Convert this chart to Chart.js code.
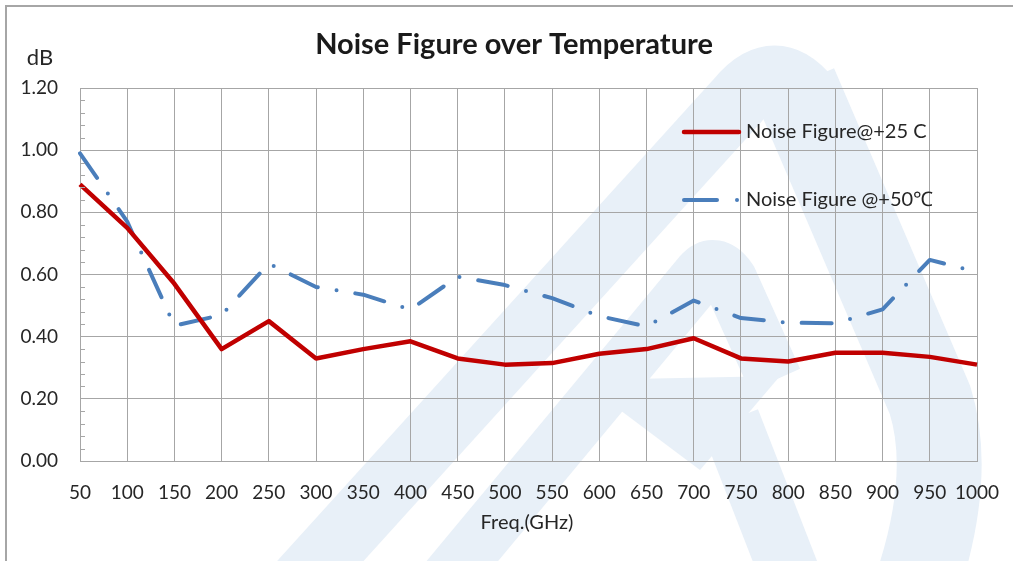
<!DOCTYPE html>
<html><head><meta charset="utf-8">
<script src="https://cdn.jsdelivr.net/npm/chart.js@4.4.1/dist/chart.umd.min.js"></script>
<style>html,body{margin:0;padding:0;background:#fff;}canvas{display:block;}</style>
</head><body>
<canvas id="c" width="1013" height="561"></canvas>
<script>
const categories = ['50','100','150','200','250','300','350','400','450','500','550','600','650','700','750','800','850','900','950','1000'];
const nf25 = [0.89,0.75,0.57,0.36,0.45,0.33,0.36,0.385,0.33,0.31,0.315,0.345,0.36,0.395,0.33,0.32,0.348,0.348,0.335,0.31];
const nf50 = [0.99,0.77,0.435,0.47,0.635,0.56,0.535,0.487,0.593,0.566,0.524,0.466,0.433,0.516,0.46,0.445,0.443,0.488,0.647,0.608];
const yTicks = [0,0.2,0.4,0.6,0.8,1.0,1.2];
const seriesNames = ['Noise Figure@+25 C','Noise Figure @+50\u2103'];
const chartTitle = 'Noise Figure over Temperature';
const yUnit = 'dB';
const xTitle = 'Freq.(GHz)';

const RED = '#c00000', BLUE = '#4a7ebb', GRID = '#a6a6a6', TXT = '#262626';
const FONT = 'Lato';

const deco = {
  id:'deco',
  beforeDraw(chart){
    const ctx = chart.ctx;
    ctx.save();
    ctx.fillStyle='#fff'; ctx.fillRect(0,0,chart.width,chart.height);
    // watermark
    ctx.strokeStyle='#e8f0f8'; ctx.fillStyle='#e8f0f8';
    ctx.lineJoin='round'; ctx.lineCap='butt';
    ctx.lineWidth=64;
    ctx.beginPath(); ctx.moveTo(285,600); ctx.lineTo(738,100); ctx.quadraticCurveTo(775,55,810,100); ctx.stroke();
    ctx.lineWidth=85;
    ctx.beginPath(); ctx.moveTo(795,85); ctx.lineTo(930,400); ctx.quadraticCurveTo(955,480,912,600); ctx.stroke();
    ctx.lineWidth=55;
    ctx.beginPath(); ctx.moveTo(430,600); ctx.lineTo(700,275); ctx.quadraticCurveTo(715,258,730,280); ctx.lineTo(775,380); ctx.stroke();
    ctx.beginPath(); ctx.moveTo(580,380); ctx.lineTo(780,376); ctx.lineTo(700,470); ctx.closePath(); ctx.fill();
    ctx.lineWidth=60;
    ctx.beginPath(); ctx.moveTo(730,420); ctx.lineTo(800,600); ctx.stroke();
    ctx.restore();
  },
  afterDatasetsDraw(chart){
    const ctx = chart.ctx, y = chart.scales.y, a = chart.chartArea;
    ctx.save();
    // minor ticks
    ctx.strokeStyle=GRID; ctx.lineWidth=1;
    for(let i=0;i<=30;i++){ if(i%5===0) continue; const py=Math.round(y.getPixelForValue(i*0.04))+0.5; ctx.beginPath(); ctx.moveTo(a.left,py); ctx.lineTo(a.left+5,py); ctx.stroke(); }
    // frame
    ctx.fillStyle='#a6a6a6'; ctx.fillRect(5,5,1008,2); ctx.fillRect(5,5,2,556);
    // texts
    ctx.fillStyle='#1a1a1a'; ctx.textBaseline='middle'; ctx.textAlign='center';
    ctx.font='bold 29px '+FONT; ctx.fillText(chartTitle,514,45);
    ctx.fillStyle=TXT;
    ctx.font='22px '+FONT; ctx.fillText(yUnit,40,58);
    ctx.font='20px '+FONT; ctx.fillText(xTitle,527,523);
    // legend
    ctx.lineCap='round';
    ctx.strokeStyle=RED; ctx.lineWidth=4.5; ctx.beginPath(); ctx.moveTo(684,132); ctx.lineTo(739,132); ctx.stroke();
    ctx.strokeStyle=BLUE; ctx.lineWidth=4; ctx.beginPath(); ctx.moveTo(684,200); ctx.lineTo(717,200); ctx.stroke();
    ctx.beginPath(); ctx.arc(737,200,2,0,Math.PI*2); ctx.fillStyle=BLUE; ctx.fill();
    ctx.fillStyle=TXT; ctx.textAlign='left'; ctx.font='20px '+FONT;
    ctx.fillText(seriesNames[0],746,132);
    ctx.fillText(seriesNames[1],746,200);
    ctx.restore();
  }
};

new Chart(document.getElementById('c'),{
  type:'line',
  data:{labels:categories,datasets:[
    {label:seriesNames[0],data:nf25,borderColor:RED,borderWidth:4.5,pointRadius:0,tension:0,borderJoinStyle:'round',fill:false},
    {label:seriesNames[1],data:nf50,borderColor:BLUE,borderWidth:4,pointRadius:0,tension:0,borderDash:[30,19,0,19],borderCapStyle:'round',borderJoinStyle:'round',fill:false}
  ]},
  options:{
    responsive:false, animation:false, devicePixelRatio:1,
    layout:{padding:{left:0,right:36,top:88,bottom:0}},
    plugins:{legend:{display:false},title:{display:false},tooltip:{enabled:false}},
    scales:{
      x:{type:'category',offset:false,
         grid:{color:GRID,lineWidth:1,drawTicks:false},border:{color:GRID,width:1},
         ticks:{padding:20,autoSkip:false,maxRotation:0,color:TXT,font:{family:FONT,size:19}},
         afterFit(s){s.height=100;s.paddingLeft=0;s.paddingRight=0;}},
      y:{min:0,max:1.2,
         afterBuildTicks(s){s.ticks=yTicks.map(v=>({value:v}));},
         grid:{color:GRID,lineWidth:1,drawTicks:false},border:{color:GRID,width:1},
         ticks:{padding:22,color:TXT,font:{family:FONT,size:19},callback:v=>Number(v).toFixed(2)},
         afterFit(s){s.width=80;s.paddingTop=0;s.paddingBottom=0;}}
    }
  },
  plugins:[deco]
});
</script>
</body></html>
